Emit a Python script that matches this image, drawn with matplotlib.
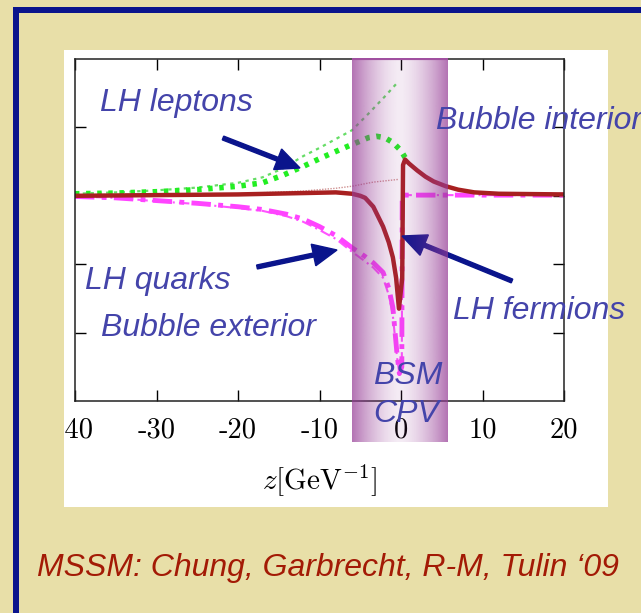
import numpy as np
import matplotlib
matplotlib.use("Agg")
import matplotlib.pyplot as plt
from matplotlib.patches import Rectangle, FancyArrow
from matplotlib.transforms import IdentityTransform, Bbox, TransformedBbox

# ---- data (z in GeV^-1, arbitrary y units) ----
z_lep = [-40, -35, -30, -25, -20, -17, -14.5, -12, -9.5, -7, -5, -4, -3, -2, -1, 0, 0.5]
lep_thick = [0.03, 0.04, 0.06, 0.09, 0.14, 0.19, 0.30, 0.43, 0.57, 0.70, 0.80, 0.85, 0.87, 0.85, 0.78, 0.66, 0.56]

z_lep_thin = [-40, -35, -30, -25, -20, -17, -14.5, -12, -10, -8, -6, -4, -2, -0.4]
lep_thin = [0.03, 0.05, 0.08, 0.12, 0.19, 0.27, 0.40, 0.58, 0.70, 0.83, 0.96, 1.20, 1.45, 1.66]

z_ferm = [-40, -30, -20, -12, -8, -6, -5, -4.4, -3.4, -2.2, -1.5, -1, -0.6, -0.25,
          0.15, 0.25, 0.5, 1, 2, 3, 4, 5.5, 7, 9, 12, 20]
ferm = [0.0, 0.01, 0.02, 0.04, 0.05, 0.03, 0.0, -0.03, -0.16, -0.45, -0.68, -0.9, -1.2, -1.65,
        -1.2, 0.45, 0.53, 0.47, 0.37, 0.28, 0.21, 0.14, 0.09, 0.05, 0.03, 0.02]

z_ferm_thin = [-40, -30, -20, -12, -8, -6, -3.4, -0.3]
ferm_thin = [0.0, 0.01, 0.03, 0.07, 0.11, 0.14, 0.20, 0.24]

z_quark = [-40, -35, -30, -25, -20, -17, -14, -12, -10, -8, -6, -4.5, -3.4, -2.2, -1.5, -1,
           -0.5, -0.2, 0.1, 0.15, 2, 5, 10, 20]
quark = [-0.01, -0.03, -0.07, -0.11, -0.16, -0.20, -0.27, -0.34, -0.45, -0.58, -0.76, -0.88,
         -0.98, -1.12, -1.35, -1.63, -2.3, -2.6, -2.5, 0.01, 0.01, 0.01, 0.01, 0.01]
quark_thin = [-0.01, -0.03, -0.08, -0.12, -0.18, -0.22, -0.30, -0.38, -0.50, -0.63, -0.82, -0.95,
              -1.05, -1.2, -1.45, -1.75, -2.35, -2.6, -2.5, 0.01, 0.01, 0.01, 0.01, 0.01]

xticks = [-40, -30, -20, -10, 0, 10, 20]
xticklabels = ['-40', '-30', '-20', '-10', '0', '10', '20']

W, H = 641, 613
BG = '#E8DFA8'
NAVY = '#0A148C'
BLUE_TXT = '#4444AA'


def fig_box(x0, y0, x1, y1):
    # pixel box (top-left origin) -> figure fraction [left, bottom, w, h]
    return [x0 / W, 1 - y1 / H, (x1 - x0) / W, (y1 - y0) / H]


plt.rcParams['mathtext.fontset'] = 'cm'
fig = plt.figure(figsize=(W / 100, H / 100), dpi=100, facecolor=BG)

# slide frame and white picture panel
fig.add_artist(Rectangle((13 / W, 0), 6 / W, 1 - 7 / H, transform=fig.transFigure,
                         facecolor=NAVY, edgecolor='none', zorder=-2))
fig.add_artist(Rectangle((13 / W, 1 - 13 / H), 1, 6 / H, transform=fig.transFigure,
                         facecolor=NAVY, edgecolor='none', zorder=-2))
pb = fig_box(64, 50, 608, 507)
panel = Rectangle((pb[0], pb[1]), pb[2], pb[3], transform=fig.transFigure,
                  facecolor='white', edgecolor='none', zorder=-1)
fig.add_artist(panel)

ax = fig.add_axes(fig_box(75, 59, 564, 401))
ax.plot(z_lep_thin, lep_thin, color='#66DD66', lw=1.6, ls=(0, (1.5, 2)))
ax.plot(z_lep, lep_thick, color='#22EE22', lw=4, ls=(0, (0.8, 1.2)))
ax.plot(z_ferm_thin, ferm_thin, color='#B04848', lw=1, ls=(0, (1, 1)), alpha=0.6)
ax.plot(z_quark, quark_thin, color='#FF55FF', lw=1.5, ls=(0, (5, 2, 1, 2)))
ax.plot(z_quark, quark, color='#FF44FF', lw=3.5, ls=(0, (4, 1.5, 1, 1.5)))
ax.plot(z_ferm, ferm, color='#A82020', lw=3.2)

ax.set_xlim(-40, 20)
ax.set_ylim(-3, 2)
ax.set_xticks(xticks)
ax.set_xticklabels(xticklabels, fontfamily='cmr10', fontsize=20.5)
ax.set_yticks([-2, -1, 0, 1])
ax.set_yticklabels([])
ax.tick_params(direction='in', length=8, width=1, top=True, right=True, pad=12)
for s in ax.spines.values():
    s.set_linewidth(1.1)
    s.set_color('#222222')
ax.set_xlabel(r'$z[\mathrm{GeV}^{-1}]$', fontsize=21, labelpad=13)

# clip tick labels to the white panel (the -40 is cut in the picture)
clip = TransformedBbox(Bbox.from_bounds(*pb), fig.transFigure)
for lbl in ax.get_xticklabels():
    lbl.set_clip_box(clip)
    lbl.set_clip_on(True)

# arrows
for (x0, y0, x1, y1) in [(223, 138, 300, 168), (257, 267, 337, 250), (512, 281, 402, 236)]:
    fig.add_artist(FancyArrow(x0, H - y0, x1 - x0, -(y1 - y0), width=4, head_width=22,
                              head_length=24, length_includes_head=True,
                              transform=IdentityTransform(), color=NAVY, zorder=1))

# purple BSM CPV band
bax = fig.add_axes(fig_box(352, 58, 448, 442), zorder=2)
t = np.linspace(0, 1, 200)
alpha = 0.10 + 0.62 * np.abs(2 * t - 1) ** 1.6
img = np.zeros((1, t.size, 4))
img[..., 0] = 150 / 255
img[..., 1] = 60 / 255
img[..., 2] = 150 / 255
img[..., 3] = alpha
bax.imshow(img, aspect='auto', extent=(0, 1, 0, 1))
bax.axhline(1, color='#A050A0', lw=3)
bax.set_xlim(0, 1)
bax.set_ylim(0, 1)
bax.axis('off')

# annotations
txt = dict(color=BLUE_TXT, fontsize=23, style='italic', family='Liberation Sans',
           va='center', ha='left', zorder=4)
fig.text(100 / W, 1 - 103 / H, 'LH leptons', **txt)
fig.text(436 / W, 1 - 121 / H, 'Bubble interior', **txt)
fig.text(85 / W, 1 - 281 / H, 'LH quarks', **txt)
fig.text(101 / W, 1 - 328 / H, 'Bubble exterior', **txt)
fig.text(453 / W, 1 - 311 / H, 'LH fermions', **txt)
fig.text(373 / W, 1 - 376 / H, 'BSM', **txt)
fig.text(373 / W, 1 - 414 / H, 'CPV', **txt)

fig.text(37 / W, 1 - 568 / H, 'MSSM: Chung, Garbrecht, R-M, Tulin \u201809',
         color='#A31A05', fontsize=23, style='italic', family='Liberation Sans',
         va='center', ha='left')

fig.savefig('out.png', dpi=100, facecolor=BG)
